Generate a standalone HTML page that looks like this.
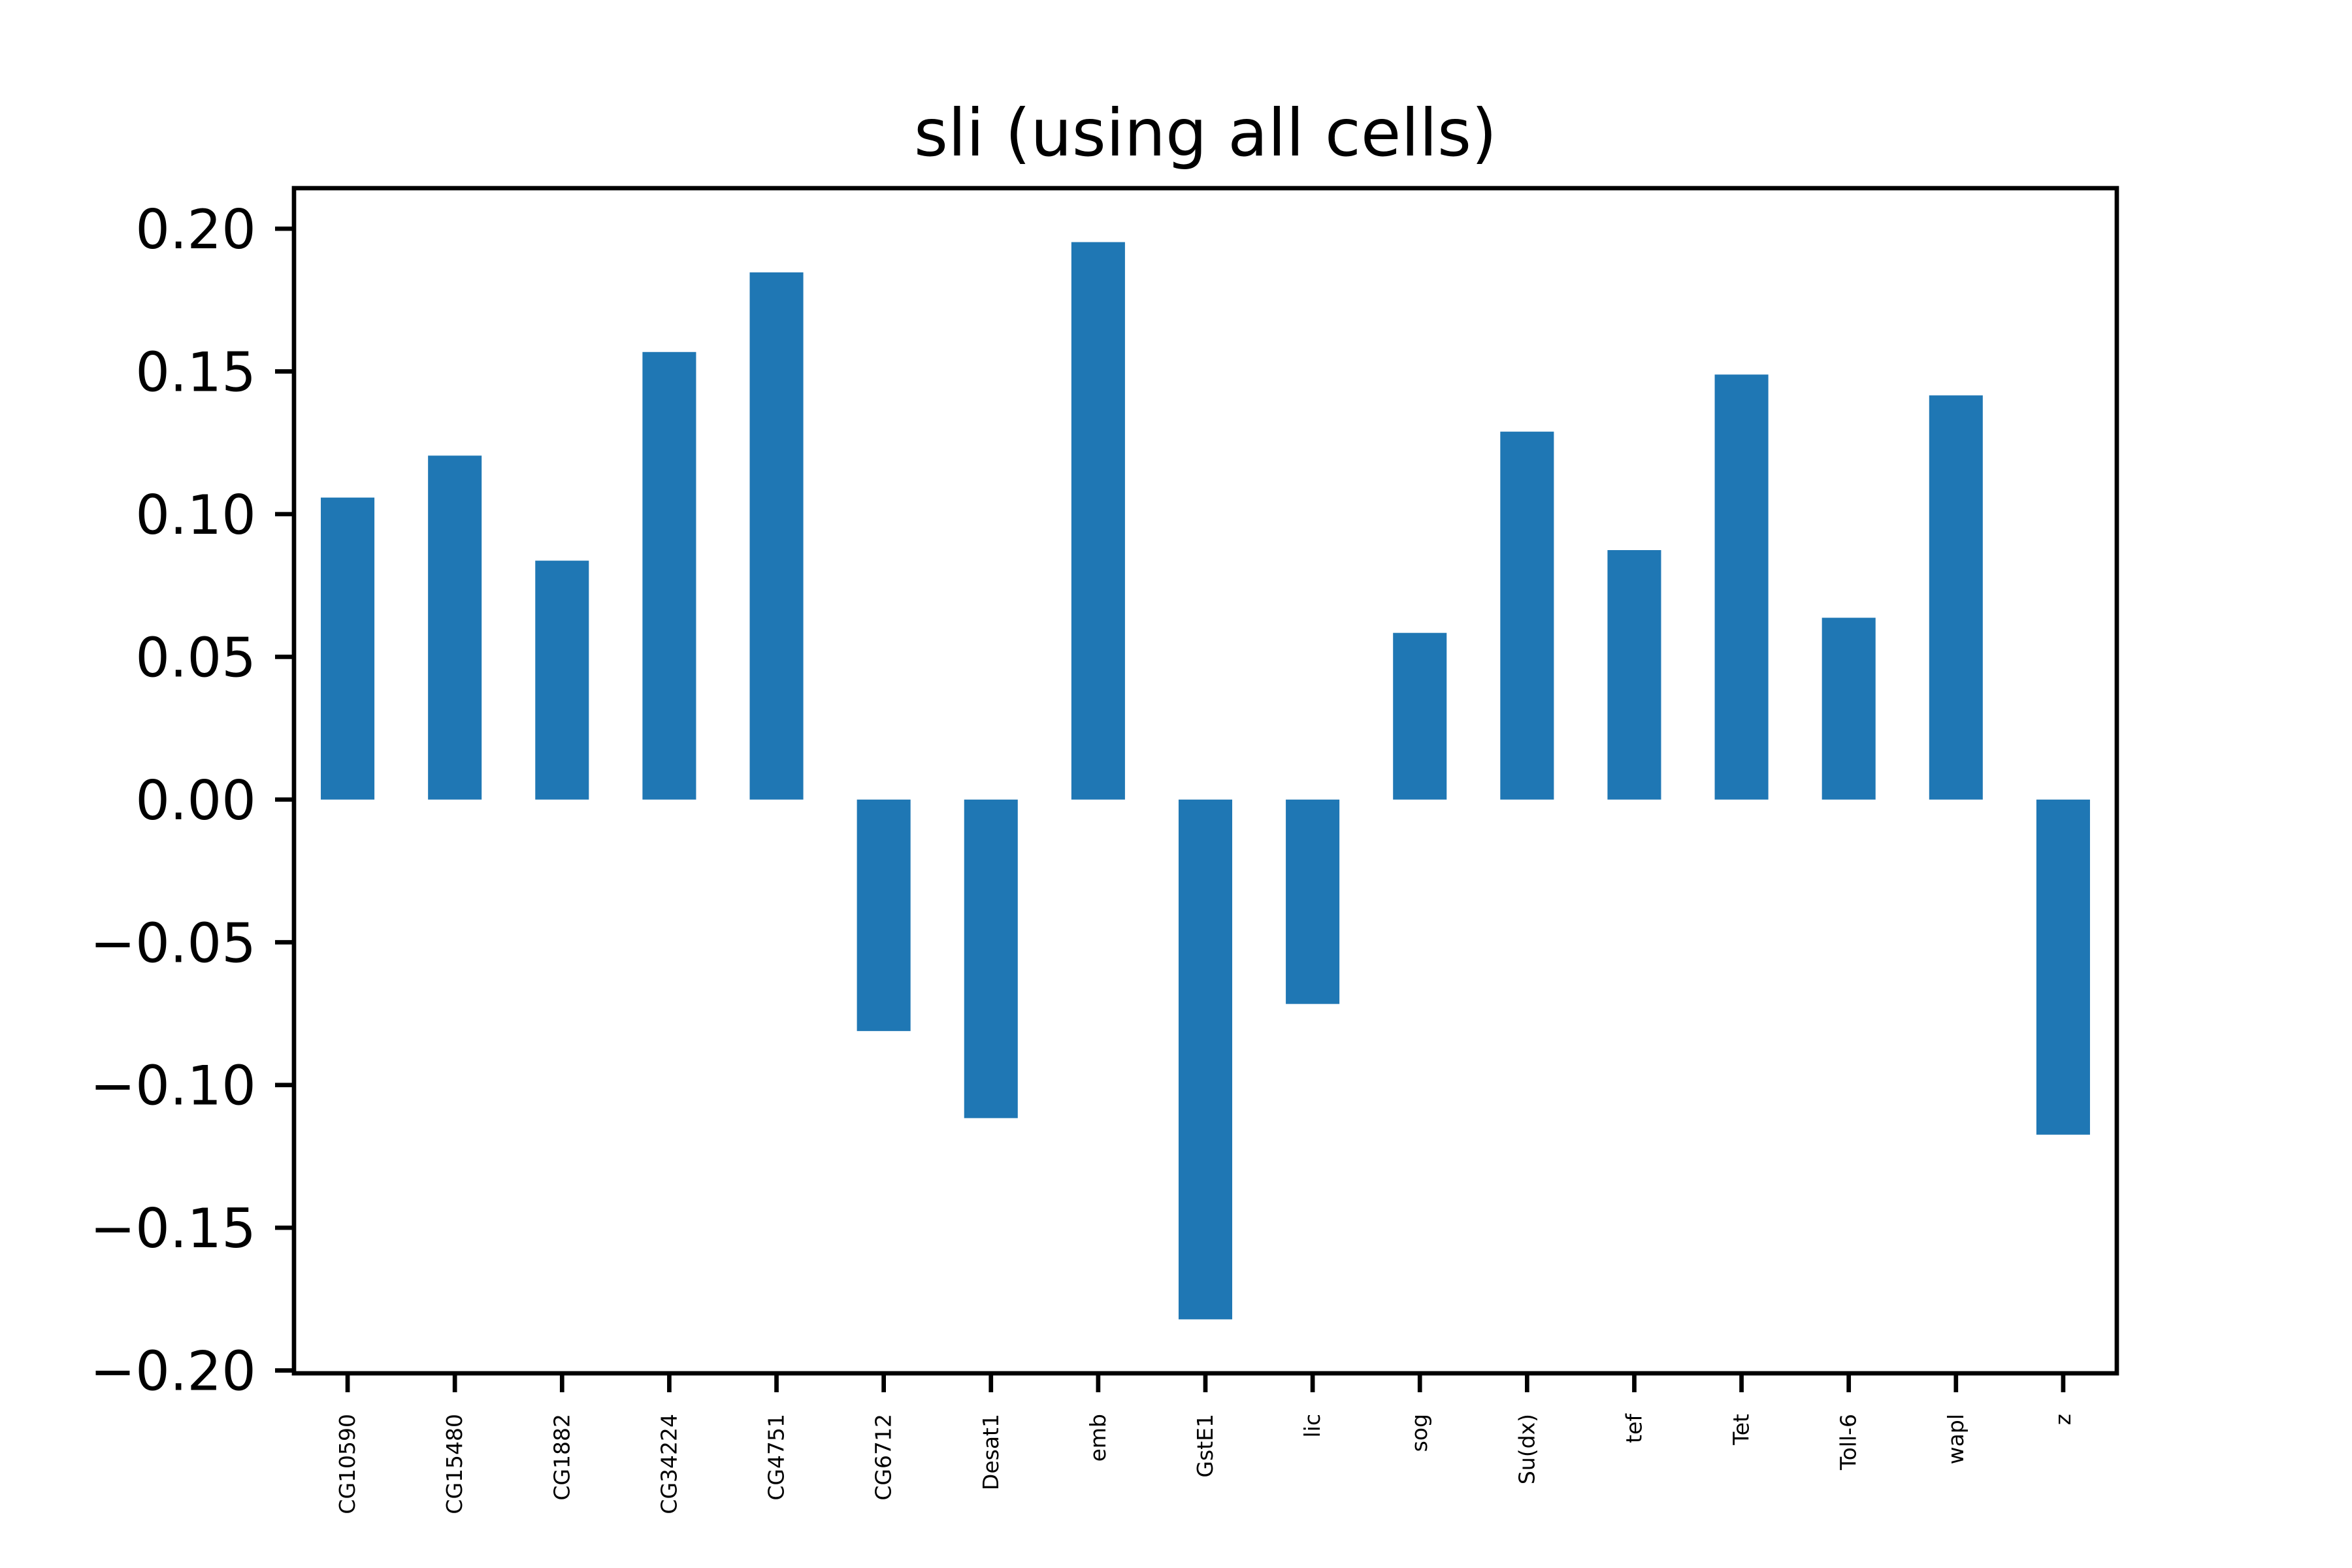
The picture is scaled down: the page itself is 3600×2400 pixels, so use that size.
<!DOCTYPE html>
<html><head><meta charset="utf-8"><style>
html,body{margin:0;padding:0;background:#fff;}
svg{display:block;}
text{font-family:"DejaVu Sans","Liberation Sans",sans-serif;fill:#000;}
</style></head><body>
<svg id="chart" width="3600" height="2400" viewBox="0 0 3600 2400" xmlns="http://www.w3.org/2000/svg">
<rect x="0" y="0" width="3600" height="2400" fill="#fff"/>
<text x="1845" y="238" font-size="100" text-anchor="middle">sli (using all cells)</text>
<g id="bars"></g>
<g id="yticks"></g>
<g id="xticks"></g>
<rect x="450" y="288" width="2790" height="1814" fill="none" stroke="#000" stroke-width="6.7"/>
</svg>
<script>
const categories = ["CG10590","CG15480","CG1882","CG34224","CG4751","CG6712","Desat1","emb","GstE1","lic","sog","Su(dx)","tef","Tet","Toll-6","wapl","z"];
const values = [0.1058,0.1205,0.0837,0.1568,0.1847,-0.0811,-0.1116,0.1953,-0.1821,-0.0716,0.0584,0.1289,0.0874,0.1489,0.0637,0.1416,-0.1174];
const yTickValues = [-0.20,-0.15,-0.10,-0.05,0.00,0.05,0.10,0.15,0.20];
const yTickLabels = ["\u22120.20","\u22120.15","\u22120.10","\u22120.05","0.00","0.05","0.10","0.15","0.20"];

const NS = "http://www.w3.org/2000/svg";
const L = 450, R = 3240, T = 288, B = 2102;
const yMin = -0.2010, yMax = 0.2142;
function y(v){ return B - (v - yMin) / (yMax - yMin) * (B - T); }
function x(i){ return L + (i + 0.5) / categories.length * (R - L); }
const bw = 0.5 / categories.length * (R - L);

const gb = document.getElementById('bars');
values.forEach((v, i) => {
  const r = document.createElementNS(NS, 'rect');
  
  
  r.setAttribute('x', x(i) - bw / 2);
  r.setAttribute('y', Math.min(y(v), y(0)));
  r.setAttribute('width', bw);
  r.setAttribute('height', Math.abs(y(v) - y(0)));
  r.setAttribute('fill', '#1f77b4');
  gb.appendChild(r);
});

const gy = document.getElementById('yticks');
yTickValues.forEach((v, i) => {
  const ln = document.createElementNS(NS, 'line');
  
  
  ln.setAttribute('x1', L - 29); ln.setAttribute('x2', L);
  ln.setAttribute('y1', y(v)); ln.setAttribute('y2', y(v));
  ln.setAttribute('stroke', '#000'); ln.setAttribute('stroke-width', '6.7');
  gy.appendChild(ln);
  const t = document.createElementNS(NS, 'text');
  
  
  t.setAttribute('x', L - 58); t.setAttribute('y', y(v) + 30);
  t.setAttribute('font-size', '83');
  t.setAttribute('text-anchor', 'end');
  t.textContent = yTickLabels[i];
  gy.appendChild(t);
});

const gx = document.getElementById('xticks');
categories.forEach((c, i) => {
  const ln = document.createElementNS(NS, 'line');
  
  
  ln.setAttribute('x1', x(i)); ln.setAttribute('x2', x(i));
  ln.setAttribute('y1', B); ln.setAttribute('y2', B + 29);
  ln.setAttribute('stroke', '#000'); ln.setAttribute('stroke-width', '6.7');
  gx.appendChild(ln);
  const t = document.createElementNS(NS, 'text');
  
  
  t.setAttribute('transform', 'translate(' + (x(i) + 11) + ',' + (B + 62) + ') rotate(-90)');
  t.setAttribute('font-size', '33');
  t.setAttribute('text-anchor', 'end');
  t.textContent = c;
  gx.appendChild(t);
});
</script>
</body></html>
